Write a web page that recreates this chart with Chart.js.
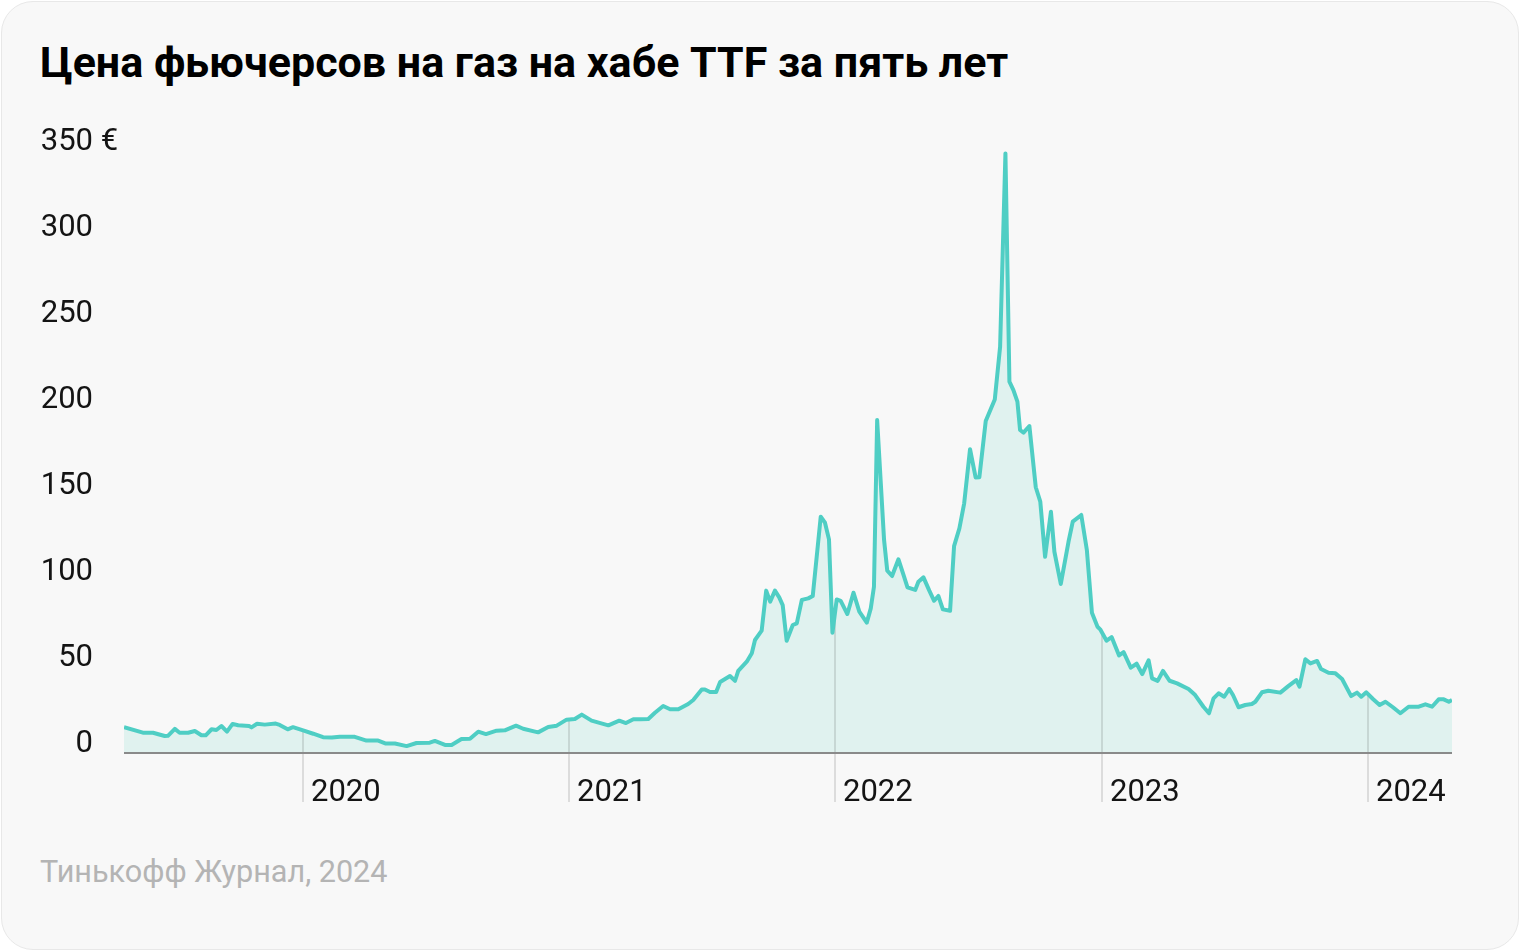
<!DOCTYPE html>
<html>
<head>
<meta charset="utf-8">
<script src="https://cdn.jsdelivr.net/npm/chart.js@4.4.1/dist/chart.umd.min.js"></script>
<style>
  html, body { margin: 0; padding: 0; background: #fff; }
  body { width: 1520px; height: 952px; position: relative; overflow: hidden; font-family: Roboto, "Noto Sans", sans-serif; }
  .card { position: absolute; left: 1px; top: 1px; width: 1516px; height: 947px; background: #f8f8f8; border: 1px solid #e8e8e8; border-radius: 32px; }
  .title { position: absolute; left: 40px; top: 41px; font-weight: 700; font-size: 43px; line-height: 43px; color: #000; letter-spacing: 0; white-space: nowrap; }
  .source { position: absolute; left: 40px; top: 856px; font-size: 30.6px; line-height: 31px; color: #b4b4b4; white-space: nowrap; }
  canvas { position: absolute; left: 0; top: 0; }
</style>
</head>
<body>
<div class="card"></div>
<div class="title">Цена фьючерсов на газ на хабе TTF за пять лет</div>
<div class="source">Тинькофф Журнал, 2024</div>
<canvas id="chart" width="1520" height="952"></canvas>
<script>
// weekly-ish closes, x as decimal year
const dates = [
  2019.327, 2019.398, 2019.436, 2019.480, 2019.492, 2019.518, 2019.536, 2019.568, 2019.593, 2019.618,
  2019.634, 2019.656, 2019.674, 2019.693, 2019.714, 2019.735, 2019.756, 2019.797, 2019.806, 2019.827,
  2019.856, 2019.897, 2019.912, 2019.942, 2019.962,
  2020.000, 2020.038, 2020.075, 2020.108, 2020.138, 2020.194, 2020.238, 2020.282, 2020.311, 2020.345,
  2020.389, 2020.426, 2020.476, 2020.495, 2020.533, 2020.558, 2020.595, 2020.627, 2020.658, 2020.687,
  2020.727, 2020.758, 2020.800, 2020.827, 2020.883, 2020.921, 2020.953, 2020.990,
  2021.021, 2021.047, 2021.084, 2021.147, 2021.188, 2021.213, 2021.241, 2021.266, 2021.297, 2021.322,
  2021.353, 2021.379, 2021.410, 2021.447, 2021.466, 2021.498, 2021.510, 2021.529, 2021.552, 2021.567,
  2021.604, 2021.623, 2021.635, 2021.667, 2021.686, 2021.698, 2021.723, 2021.740, 2021.755, 2021.773,
  2021.789, 2021.802, 2021.817, 2021.840, 2021.855, 2021.874, 2021.898, 2021.915, 2021.945, 2021.961,
  2021.976, 2021.989,
  2022.005, 2022.020, 2022.045, 2022.068, 2022.090, 2022.118, 2022.133, 2022.145, 2022.157, 2022.183,
  2022.195, 2022.213, 2022.237, 2022.256, 2022.271, 2022.300, 2022.312, 2022.331, 2022.353, 2022.371,
  2022.387, 2022.404, 2022.431, 2022.446, 2022.466, 2022.484, 2022.506, 2022.527, 2022.541, 2022.565,
  2022.599, 2022.619, 2022.639, 2022.654, 2022.669, 2022.684, 2022.694, 2022.707, 2022.729, 2022.753,
  2022.770, 2022.788, 2022.810, 2022.823, 2022.847, 2022.876, 2022.892, 2022.924, 2022.945, 2022.964,
  2022.985, 2022.995,
  2023.019, 2023.038, 2023.066, 2023.083, 2023.110, 2023.132, 2023.153, 2023.177, 2023.190, 2023.211,
  2023.231, 2023.256, 2023.284, 2023.327, 2023.352, 2023.383, 2023.404, 2023.421, 2023.440, 2023.461,
  2023.480, 2023.494, 2023.515, 2023.540, 2023.565, 2023.578, 2023.603, 2023.627, 2023.672, 2023.703,
  2023.732, 2023.744, 2023.766, 2023.785, 2023.810, 2023.825, 2023.853, 2023.879, 2023.904, 2023.938,
  2023.960, 2023.976, 2023.995,
  2024.020, 2024.045, 2024.067, 2024.095, 2024.123, 2024.154, 2024.192, 2024.217, 2024.242, 2024.267,
  2024.286, 2024.305, 2024.317
];
const prices = [
  15.0, 11.8, 11.8, 9.9, 10.0, 14.0, 11.8, 11.8, 12.8, 10.3,
  10.3, 13.8, 13.4, 15.7, 12.4, 16.9, 16.1, 15.7, 14.9, 17.0,
  16.5, 17.1, 16.3, 13.8, 15.0,
  13.1, 11.2, 9.2, 9.0, 9.5, 9.4, 7.2, 7.2, 5.5, 5.5,
  4.0, 5.8, 6.0, 7.0, 4.7, 4.7, 8.1, 8.3, 12.4, 11.0,
  13.0, 13.2, 15.9, 14.1, 12.0, 15.1, 15.9, 19.4,
  19.8, 22.3, 18.8, 16.1, 18.8, 17.4, 19.6, 19.6, 19.8, 23.4,
  27.3, 25.4, 25.4, 28.5, 30.8, 36.9, 36.9, 35.5, 35.5, 41.3,
  44.8, 42.0, 47.8, 53.1, 58.0, 65.7, 71.1, 94.4, 88.0, 94.4,
  90.5, 86.0, 65.3, 74.4, 75.4, 89.0, 89.9, 91.3, 137.4, 133.9,
  124.2, 69.9,
  89.3, 88.5, 80.8, 93.2, 82.2, 75.8, 84.1, 96.7, 193.6, 123.8,
  106.0, 102.9, 112.6, 103.5, 96.3, 94.8, 99.6, 102.1, 94.4, 88.5,
  91.3, 83.5, 82.7, 120.3, 130.6, 145.2, 176.6, 160.2, 160.3, 193.0,
  205.5, 236.2, 348.6, 215.9, 211.0, 204.3, 187.8, 186.3, 190.1, 154.5,
  146.1, 114.1, 140.3, 117.0, 98.3, 122.8, 134.5, 138.4, 118.0, 81.6,
  73.4, 71.9,
  65.3, 67.4, 56.7, 58.6, 49.6, 51.9, 45.9, 53.9, 43.4, 41.9,
  47.7, 42.0, 40.5, 37.2, 33.7, 26.9, 23.1, 31.8, 34.7, 32.7,
  37.2, 33.7, 26.6, 27.9, 28.5, 29.8, 35.3, 36.2, 35.1, 39.0,
  42.4, 38.6, 54.5, 52.1, 53.5, 48.8, 46.7, 46.3, 43.0, 33.1,
  35.1, 32.7, 35.3,
  31.4, 27.9, 29.8, 26.6, 23.1, 26.9, 26.9, 28.3, 26.9, 31.2,
  31.2, 29.8, 30.8
];
const yearTicks = [2020, 2021, 2022, 2023, 2024];
const valueTicks = [0, 50, 100, 150, 200, 250, 300, 350];

// price at a given x, for the year lines that stop at the curve
function priceAt(t) {
  for (let i = 1; i < dates.length; i++) {
    if (dates[i] >= t) {
      const k = (t - dates[i - 1]) / (dates[i] - dates[i - 1]);
      return prices[i - 1] + k * (prices[i] - prices[i - 1]);
    }
  }
  return prices[prices.length - 1];
}

const axesPlugin = {
  id: 'axesPlugin',
  beforeDatasetsDraw(chart) {
    const { ctx, chartArea, scales } = chart;
    const x = scales.x, y = scales.y;
    ctx.save();
    // year lines under the curve
    ctx.strokeStyle = 'rgba(0,0,0,0.11)';
    ctx.lineWidth = 2;
    yearTicks.forEach(yr => {
      const px = Math.round(x.getPixelForValue(yr));
      ctx.beginPath();
      ctx.moveTo(px, y.getPixelForValue(priceAt(yr)));
      ctx.lineTo(px, chartArea.bottom + 49);
      ctx.stroke();
    });
    // base line
    ctx.strokeStyle = '#8a8a8a';
    ctx.beginPath();
    ctx.moveTo(chartArea.left, chartArea.bottom);
    ctx.lineTo(chartArea.right, chartArea.bottom);
    ctx.stroke();

    ctx.fillStyle = '#141414';
    ctx.font = '31px Roboto';
    ctx.textBaseline = 'alphabetic';
    valueTicks.forEach(v => {
      const py = y.getPixelForValue(v) - 1;
      ctx.textAlign = 'right';
      ctx.fillText(String(v), 93, py);
      if (v === 350) {
        ctx.textAlign = 'left';
        ctx.fillText(' €', 93, py);
      }
    });
    ctx.textAlign = 'left';
    yearTicks.forEach(yr => {
      const px = Math.round(x.getPixelForValue(yr));
      ctx.fillText(String(yr), px + 8, chartArea.bottom + 48);
    });
    ctx.restore();
  }
};

new Chart(document.getElementById('chart').getContext('2d'), {
  type: 'line',
  data: {
    datasets: [{
      data: dates.map((d, i) => ({ x: d, y: prices[i] })),
      borderColor: '#4fcec4',
      backgroundColor: '#e0f2ef',
      borderWidth: 4,
      fill: 'origin',
      pointRadius: 0,
      tension: 0,
      borderJoinStyle: 'round'
    }]
  },
  options: {
    responsive: false,
    animation: false,
    events: [],
    layout: { padding: { left: 124, right: 68, top: 151, bottom: 199 } },
    scales: {
      x: { type: 'linear', display: false, min: dates[0], max: dates[dates.length - 1] },
      y: { display: false, min: 0, max: 350 }
    },
    plugins: {
      legend: { display: false },
      tooltip: { enabled: false },
      filler: { drawTime: 'beforeDatasetsDraw' }
    }
  },
  plugins: [axesPlugin]
});
</script>
</body>
</html>
